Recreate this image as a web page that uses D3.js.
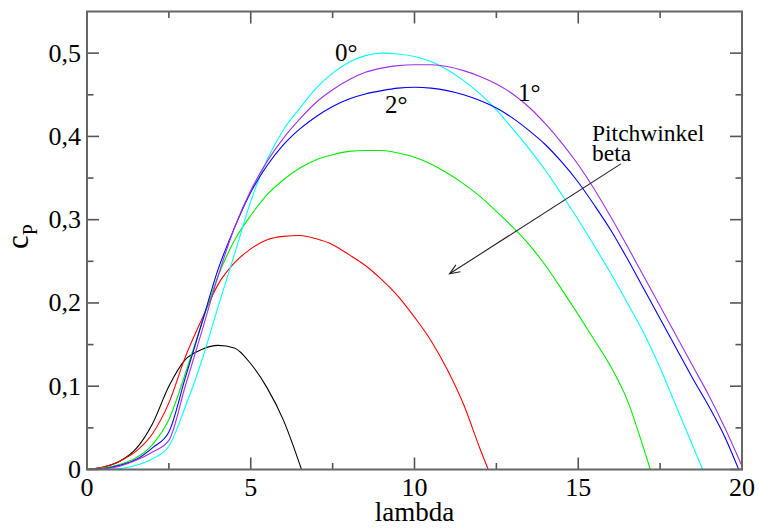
<!DOCTYPE html>
<html>
<head>
<meta charset="utf-8">
<script src="https://cdn.jsdelivr.net/npm/d3@7"></script>
<style>
  body { margin: 0; background: #fff; }
</style>
</head>
<body>
<svg id="chart" width="759" height="528" font-family="'Liberation Serif', 'Times New Roman', serif"></svg>
<script>
// Power coefficient c_P over tip speed ratio lambda, one curve per pitch angle beta
const lambda0 = [0,0.5,1,1.5,2,2.5,3,3.5,4,4.5,5,5.5,6,6.5,7,7.5,8,8.5,9,9.5,10,10.5,11,11.5,12,12.5,13,13.5,14,14.5,15,15.5,16,16.5,17,17.5,18,18.5,18.8];
const cp0 = [0,0,0.001,0.005,0.013,0.028,0.075,0.13,0.195,0.258,0.322,0.372,0.408,0.434,0.458,0.476,0.489,0.497,0.5,0.499,0.496,0.49,0.48,0.467,0.451,0.432,0.409,0.385,0.359,0.33,0.30,0.268,0.235,0.20,0.164,0.122,0.075,0.028,0];

const lambda1 = [0,0.5,1,1.5,2,2.5,3,3.5,4,4.5,5,5.5,6,6.5,7,7.5,8,8.5,9,9.5,10,10.5,11,11.5,12,12.5,13,13.5,14,14.5,15,15.5,16,16.5,17,17.5,18,18.5,19,19.5,20];
const cp1 = [0,0.001,0.004,0.011,0.021,0.035,0.10,0.165,0.232,0.29,0.335,0.37,0.398,0.421,0.441,0.456,0.468,0.477,0.482,0.485,0.486,0.486,0.484,0.479,0.472,0.463,0.451,0.435,0.415,0.392,0.366,0.336,0.303,0.268,0.232,0.196,0.160,0.124,0.088,0.048,0.004];

const lambda2 = [0,0.5,1,1.5,2,2.5,3,3.5,4,4.5,5,5.5,6,6.5,7,7.5,8,8.5,9,9.5,10,10.5,11,11.5,12,12.5,13,13.5,14,14.5,15,15.5,16,16.5,17,17.5,18,18.5,19,19.5,19.9];
const cp2 = [0,0.001,0.005,0.012,0.026,0.045,0.11,0.175,0.24,0.29,0.333,0.365,0.39,0.409,0.424,0.436,0.445,0.451,0.455,0.458,0.459,0.458,0.455,0.45,0.443,0.434,0.422,0.407,0.39,0.369,0.345,0.317,0.287,0.253,0.217,0.181,0.145,0.109,0.075,0.037,0];

const lambdaG = [0,0.5,1,1.5,2,2.5,3,3.5,4,4.5,5,5.5,6,6.5,7,7.5,8,8.5,9,9.5,10,10.5,11,11.5,12,12.5,13,13.5,14,14.5,15,15.5,16,16.5,17,17.2];
const cpG = [0,0.002,0.006,0.014,0.03,0.06,0.115,0.175,0.232,0.275,0.305,0.33,0.348,0.362,0.372,0.378,0.382,0.383,0.383,0.38,0.375,0.367,0.356,0.343,0.328,0.31,0.291,0.27,0.245,0.216,0.186,0.155,0.123,0.083,0.025,0];

const lambdaR = [0,0.5,1,1.5,2,2.5,3,3.5,4,4.5,5,5.5,6,6.5,7,7.5,8,8.5,9,9.5,10,10.5,11,11.5,12,12.25];
const cpR = [0,0.003,0.010,0.022,0.043,0.080,0.135,0.180,0.222,0.248,0.265,0.276,0.280,0.281,0.277,0.270,0.258,0.245,0.228,0.208,0.183,0.155,0.12,0.078,0.025,0];

const lambdaK = [0,0.5,1,1.5,2,2.5,3,3.5,4,4.5,5,5.5,6,6.55];
const cpK = [0,0.003,0.010,0.025,0.055,0.100,0.132,0.144,0.149,0.146,0.127,0.098,0.059,0];

const seriesLambda = [lambdaK, lambdaR, lambdaG, lambda0, lambda2, lambda1];
const seriesCp = [cpK, cpR, cpG, cp0, cp2, cp1];
const seriesColor = ["#000000", "#ff0000", "#00ee00", "#00ffff", "#0000ff", "#a030e8"];

// axis ticks
const xMajor = [0, 5, 10, 15, 20];
const xMinor = [2.5, 7.5, 12.5, 17.5];
const yMajor = [0, 0.1, 0.2, 0.3, 0.4, 0.5];
const yMinor = [0.05, 0.15, 0.25, 0.35, 0.45];

// annotations
const angleLabels = ["0°", "1°", "2°"];
const angleLabelX = [7.57, 13.16, 9.1];
const angleLabelY = [0.490, 0.442, 0.4286];
const noteLines = ["Pitchwinkel", "beta"];
const noteX = 15.42;
const noteY = [0.395, 0.370];
const arrowFrom = [16.3, 0.367];
const arrowTo = [11.07, 0.235];

const svg = d3.select("#chart");
const margin = { left: 87, right: 17, top: 11.5, bottom: 58.5 };
const W = 759, H = 528;
const x = d3.scaleLinear().domain([0, 20]).range([margin.left, W - margin.right]);
const y = d3.scaleLinear().domain([0, 0.55]).range([H - margin.bottom, margin.top]);

svg.append("defs").append("clipPath").attr("id", "plot")
  .append("rect")
  .attr("x", x(0)).attr("y", y(0.55))
  .attr("width", x(20) - x(0)).attr("height", y(0) - y(0.55));

// curves
const line = d3.line()
  .x(d => x(d[0]))
  .y(d => y(d[1]))
  .curve(d3.curveMonotoneX);

const curves = svg.append("g").attr("clip-path", "url(#plot)");
seriesLambda.forEach((lam, i) => {
  const pts = lam.map((l, j) => [l, seriesCp[i][j]]);
  curves.append("path")
    .attr("d", line(pts))
    .attr("fill", "none")
    .attr("stroke", seriesColor[i])
    .attr("stroke-width", 1.1)
    .attr("stroke-linejoin", "round");
});

// frame and inward ticks on all four sides
const tickColor = "#555";
const majorLen = 12, minorLen = 6.5;
const ticks = svg.append("g").attr("stroke", tickColor).attr("stroke-width", 1.6);
function xTick(v, len) {
  ticks.append("line").attr("x1", x(v)).attr("x2", x(v)).attr("y1", y(0)).attr("y2", y(0) - len);
  ticks.append("line").attr("x1", x(v)).attr("x2", x(v)).attr("y1", y(0.55)).attr("y2", y(0.55) + len);
}
function yTick(v, len) {
  ticks.append("line").attr("y1", y(v)).attr("y2", y(v)).attr("x1", x(0)).attr("x2", x(0) + len);
  ticks.append("line").attr("y1", y(v)).attr("y2", y(v)).attr("x1", x(20)).attr("x2", x(20) - len);
}
xMajor.forEach(v => xTick(v, majorLen));
xMinor.forEach(v => xTick(v, minorLen));
yMajor.forEach(v => yTick(v, majorLen));
yMinor.forEach(v => yTick(v, minorLen));

svg.append("rect")
  .attr("x", x(0)).attr("y", y(0.55))
  .attr("width", x(20) - x(0)).attr("height", y(0) - y(0.55))
  .attr("fill", "none").attr("stroke", "#666").attr("stroke-width", 2);

// tick labels
const fmtY = v => v === 0 ? "0" : d3.format(".1f")(v).replace(".", ",");
svg.append("g").selectAll("text").data(xMajor).join("text")
  .attr("x", d => x(d)).attr("y", y(0) + 26)
  .attr("text-anchor", "middle")
  .attr("font-size", 26)
  .text(d => d);
svg.append("g").selectAll("text").data(yMajor).join("text")
  .attr("x", x(0) - 6).attr("y", d => y(d) + 8.5)
  .attr("text-anchor", "end")
  .attr("font-size", 26)
  .text(fmtY);

// axis titles
svg.append("text")
  .attr("x", x(10)).attr("y", 521)
  .attr("text-anchor", "middle")
  .attr("font-size", 27)
  .text("lambda");

const yTitle = svg.append("text")
  .attr("transform", "translate(28,249) rotate(-90)")
  .attr("font-size", 31);
yTitle.append("tspan").text("c");
yTitle.append("tspan").attr("dy", 9).attr("font-size", 20).text("P");

// pitch angle labels
angleLabels.forEach((t, i) => {
  svg.append("text")
    .attr("x", x(angleLabelX[i])).attr("y", y(angleLabelY[i]))
    .attr("font-size", 25)
    .text(t);
});

noteLines.forEach((t, i) => {
  svg.append("text")
    .attr("x", x(noteX)).attr("y", y(noteY[i]))
    .attr("font-size", 23.5)
    .text(t);
});

// arrow towards increasing pitch angle
const ax1 = x(arrowFrom[0]), ay1 = y(arrowFrom[1]);
const ax2 = x(arrowTo[0]), ay2 = y(arrowTo[1]);
const ang = Math.atan2(ay2 - ay1, ax2 - ax1);
const head = 11, spread = 0.38;
const arrow = svg.append("g").attr("stroke", "#222").attr("stroke-width", 1.1).attr("fill", "none");
arrow.append("line").attr("x1", ax1).attr("y1", ay1).attr("x2", ax2).attr("y2", ay2);
arrow.append("path").attr("d",
  `M${ax2 - head * Math.cos(ang - spread)},${ay2 - head * Math.sin(ang - spread)}` +
  `L${ax2},${ay2}` +
  `L${ax2 - head * Math.cos(ang + spread)},${ay2 - head * Math.sin(ang + spread)}`);
</script>
</body>
</html>
